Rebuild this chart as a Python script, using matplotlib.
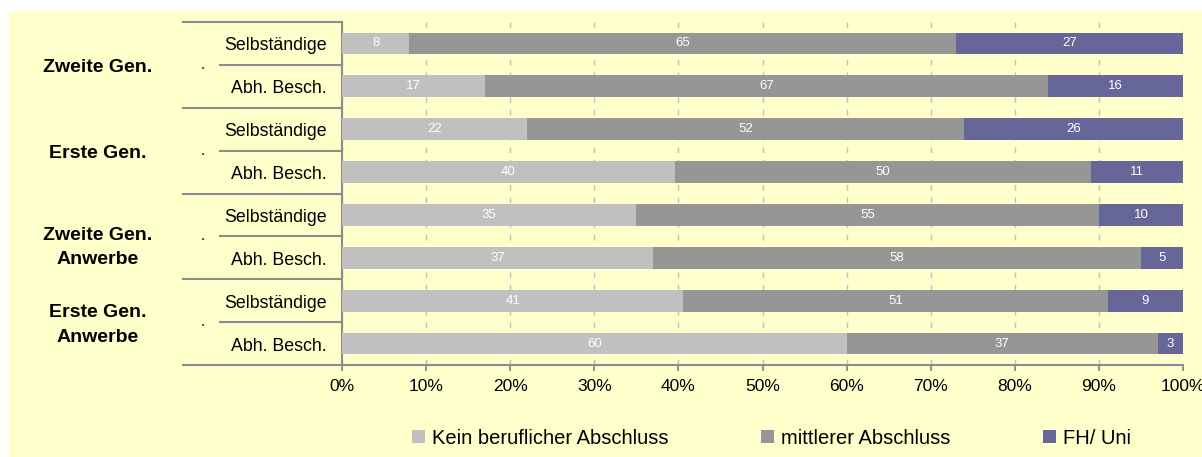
import matplotlib
matplotlib.use("Agg")
import matplotlib.pyplot as plt
import matplotlib.transforms as mtransforms
from matplotlib.patches import Rectangle
import numpy as np

plt.rcParams["font.family"] = ["Liberation Sans", "DejaVu Sans"]

# rows from top to bottom
groups = ["Zweite Gen.", "Erste Gen.", "Zweite Gen.\nAnwerbe", "Erste Gen.\nAnwerbe"]
subgroups = ["Selbständige", "Abh. Besch."]
series = ["Kein beruflicher Abschluss", "mittlerer Abschluss", "FH/ Uni"]
kein = [8, 17, 22, 40, 35, 37, 41, 60]
mittel = [65, 67, 52, 50, 55, 58, 51, 37]
fh_uni = [27, 16, 26, 11, 10, 5, 9, 3]
colors = ["#C0C0C0", "#969696", "#666699"]
# vertical nudge of the group labels, in rows
group_shift = [0.0, 0.0, 0.2, 0.0]

W, H = 1202, 457
fig = plt.figure(figsize=(W / 100, H / 100), dpi=100, facecolor="white")
fig.patches.append(Rectangle((9 / W, 0), 1 - 9 / W, 446 / H, transform=fig.transFigure,
                             facecolor="#FFFFCC", edgecolor="none", zorder=-10))

ax = fig.add_axes([342 / W, 1 - 365 / H, (1183 - 342) / W, (365 - 22) / H])
ax.set_facecolor("none")

values = np.array([kein, mittel, fh_uni], dtype=float)
shares = values / values.sum(axis=0) * 100
y = np.arange(len(kein))
left = np.zeros(len(kein))
for i, name in enumerate(series):
    ax.barh(y, shares[i], left=left, height=0.51, color=colors[i], label=name, zorder=3)
    for yy, l, s, v in zip(y, left, shares[i], values[i]):
        ax.text(l + s / 2, yy, f"{int(v)}", ha="center", va="center",
                color="white", fontsize=9.5, zorder=4)
    left += shares[i]

ax.set_xlim(0, 100)
ax.set_ylim(len(kein) - 0.5, -0.5)
ax.set_xticks(np.arange(0, 101, 10))
ax.set_xticklabels([f"{t}%" for t in range(0, 101, 10)], fontsize=12.5)
ax.set_yticks([])
ax.xaxis.grid(True, color="#C0C0C0", linestyle=(0, (4, 5)), linewidth=1, zorder=0)
ax.tick_params(axis="x", length=4, width=1.3, color="#8C8C8C", pad=6)
for side in ("top", "right"):
    ax.spines[side].set_visible(False)
for side in ("left", "bottom"):
    ax.spines[side].set_color("#8C8C8C")
    ax.spines[side].set_linewidth(1.5)

# category labels on the left, two levels
trans = mtransforms.blended_transform_factory(fig.transFigure, ax.transData)
text_trans = mtransforms.offset_copy(trans, fig=fig, x=0, y=-2.5, units="dots")
for k in range(len(groups) + 1):
    yb = 2 * k - 0.5
    ax.plot([183 / W, 342 / W], [yb, yb], transform=trans, color="#8C8C8C",
            linewidth=1.5, clip_on=False)
for k, g in enumerate(groups):
    ym = 2 * k + 0.5
    ax.plot([220 / W, 342 / W], [ym, ym], transform=trans, color="#8C8C8C",
            linewidth=1.5, clip_on=False)
    ax.text(203 / W, ym, ".", transform=trans, ha="center", va="center", fontsize=11)
    ax.text(98 / W, ym + group_shift[k], g, transform=text_trans, ha="center", va="center",
            fontsize=14, fontweight="bold", linespacing=1.6)
    for j, s in enumerate(subgroups):
        ax.text(327 / W, 2 * k + j, s, transform=text_trans, ha="right", va="center",
                fontsize=12.8)

handles, labels = ax.get_legend_handles_labels()
fig.legend(handles, labels, loc="center left", bbox_to_anchor=(412 / W, 1 - 438 / H), ncol=3,
           frameon=False, fontsize=14.5, handlelength=0.65, handleheight=0.65,
           handletextpad=0.35, columnspacing=4.58, borderpad=0, borderaxespad=0)

fig.savefig("out.png", dpi=100, facecolor="white")
